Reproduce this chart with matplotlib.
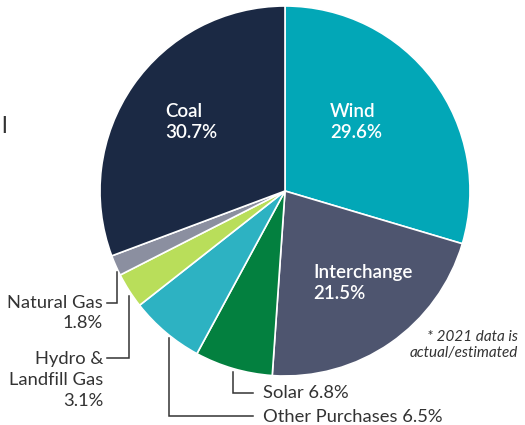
import matplotlib.pyplot as plt

# Energy mix data (clockwise from top)
labels = ['Wind', 'Interchange', 'Solar', 'Other Purchases',
          'Hydro & Landfill Gas', 'Natural Gas', 'Coal']
shares = [29.6, 21.5, 6.8, 6.5, 3.1, 1.8, 30.7]
colors = ['#02a7b7', '#4e556f', '#03803f', '#2db2c2',
          '#b9de5a', '#8b8fa0', '#1b2944']

plt.rcParams['font.family'] = ['Lato', 'DejaVu Sans']
H = 425
txt = '#333333'

fig = plt.figure(figsize=(5.25, 4.25), dpi=100)
ax = fig.add_axes([0, 0, 1, 1])

ax.pie(shares, colors=colors, startangle=90, counterclock=False,
       center=(285, H - 191), radius=185,
       wedgeprops=dict(edgecolor='white', linewidth=1.2))
ax.set_xlim(0, 525)
ax.set_ylim(0, H)
ax.set_aspect('equal')
ax.axis('off')

# inside labels
inside = {'Coal': (165, 122), 'Wind': (330, 122), 'Interchange': (313, 283)}
for name, (x, y) in inside.items():
    v = shares[labels.index(name)]
    ax.text(x, H - y, f'{name}\n{v}%', color='white', fontsize=13.5,
            fontweight='semibold', ha='left', va='center', linespacing=1.3)

# outside labels with leader lines
def lead(xs, ys):
    ax.plot(xs, [H - y for y in ys], color='#333333', lw=1.1,
            solid_joinstyle='miter')

ax.text(103, H - 313, f'Natural Gas\n{shares[5]}%', color=txt, fontsize=13.2,
        ha='right', va='center', linespacing=1.38)
lead([107, 117, 117], [303, 303, 272])

ax.text(103, H - 380, f'Hydro &\nLandfill Gas\n{shares[4]}%', color=txt,
        fontsize=13.2, ha='right', va='center', linespacing=1.38)
lead([107, 129, 129], [358, 358, 296])

ax.text(263, H - 393, f'Solar {shares[2]}%', color=txt, fontsize=13.2,
        ha='left', va='center')
lead([233, 233, 253], [372, 393, 393])

ax.text(263, H - 417, f'Other Purchases {shares[3]}%', color=txt,
        fontsize=13.2, ha='left', va='center')
lead([169, 169, 253], [338, 416, 416])

ax.text(518, H - 345, '* 2021 data is\nactual/estimated', color=txt,
        fontsize=11, style='italic', ha='right', va='center', linespacing=1.25)

ax.text(4, H - 126, 'l', color=txt, fontsize=17, ha='center', va='center')

fig.savefig('out.png', dpi=100)
